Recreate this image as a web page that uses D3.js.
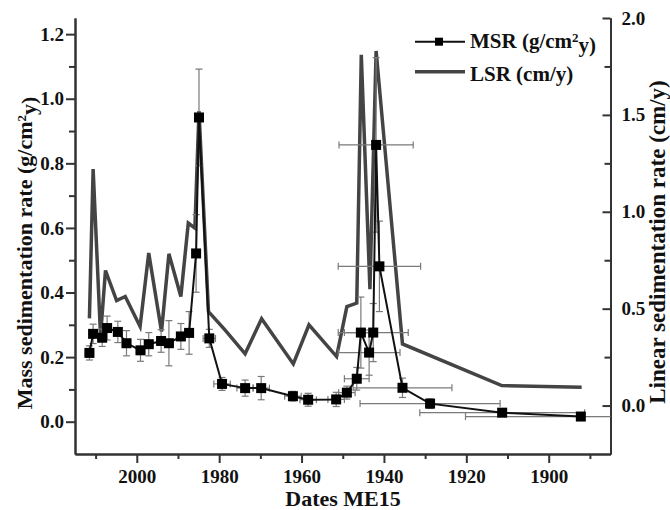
<!DOCTYPE html>
<html><head><meta charset="utf-8">
<script src="https://cdn.jsdelivr.net/npm/d3@7"></script>
<style>body{margin:0;background:#fff}svg{display:block}</style>
</head><body>
<svg id="chart" width="670" height="510"></svg>
<script>
// ---- data ----
const msrYear  = [2011.5, 2010.6, 2008.4, 2007.2, 2004.6, 2002.5, 1999.1, 1997.1, 1994.1, 1992.2, 1989.3, 1987.3, 1985.6, 1984.9, 1982.4, 1979.3, 1973.7, 1969.8, 1962.1, 1958.4, 1951.6, 1949.0, 1946.6, 1945.6, 1943.6, 1942.6, 1941.9, 1941.1, 1935.5, 1928.8, 1911.3, 1892.2];
const msrValue = [0.213, 0.272, 0.260, 0.290, 0.278, 0.243, 0.221, 0.240, 0.250, 0.243, 0.264, 0.275, 0.521, 0.942, 0.258, 0.117, 0.104, 0.104, 0.079, 0.068, 0.069, 0.090, 0.133, 0.276, 0.214, 0.276, 0.857, 0.481, 0.105, 0.056, 0.028, 0.016];
const msrErrY  = [0.022, 0.030, 0.027, 0.037, 0.033, 0.039, 0.034, 0.036, 0.035, 0.070, 0.040, 0.066, 0.120, 0.150, 0.028, 0.020, 0.025, 0.036, 0.015, 0.020, 0.022, 0.020, 0.035, 0.110, 0.070, 0.090, 0.270, 0.140, 0.030, 0.015, 0.010, 0.010];
const msrErrX  = [1, 1, 1, 1, 1, 1, 1, 1, 1, 1, 1, 1, 0.5, 0.5, 1.5, 2, 2, 2, 2, 2, 2, 2, 3, 4, 7.5, 8.5, 9, 10, 12, 17, 20, 28];

const lsrYear  = [2011.5, 2010.6, 2008.8, 2007.6, 2004.9, 2002.8, 1999.2, 1997.1, 1994.0, 1992.2, 1989.3, 1987.5, 1985.9, 1984.9, 1982.6, 1978.6, 1973.7, 1969.7, 1962.0, 1958.2, 1951.5, 1949.0, 1946.6, 1945.5, 1943.4, 1941.9, 1935.5, 1911.4, 1892.0];
const lsrValue = [0.45, 1.22, 0.36, 0.697, 0.542, 0.563, 0.408, 0.787, 0.382, 0.783, 0.563, 0.942, 0.916, 1.52, 0.485, 0.391, 0.267, 0.448, 0.215, 0.417, 0.253, 0.511, 0.529, 1.81, 0.60, 1.83, 0.318, 0.103, 0.095];

const xMajor = [2000, 1980, 1960, 1940, 1920, 1900];
const xMinor = [2010, 1990, 1970, 1950, 1930, 1910, 1890];
const yLeftMajor = [0.0, 0.2, 0.4, 0.6, 0.8, 1.0, 1.2];
const yLeftMinor = [0.1, 0.3, 0.5, 0.7, 0.9, 1.1];
const yRightMajor = [0.0, 0.5, 1.0, 1.5, 2.0];
const yRightMinor = [0.25, 0.75, 1.25, 1.75];

// ---- layout ----
const L = 75, R = 610.5, T = 18, B = 454;
const FONT = "'Liberation Serif','Times New Roman',serif";
const svg = d3.select("#chart");

const x = d3.scaleLinear().domain([2015, 1885]).range([L, R]);
const yL = d3.scaleLinear().domain([-0.1, 1.25]).range([B, T]);
const yR = d3.scaleLinear().domain([-0.25, 2.0]).range([B, T]);

svg.append("defs").append("clipPath").attr("id", "clip")
  .append("rect").attr("x", L).attr("y", T).attr("width", R - L).attr("height", B - T);

function styleAxis(g) {
  g.selectAll("path.domain").attr("stroke", "#333").attr("stroke-width", 2);
  g.selectAll(".tick line").attr("stroke", "#333").attr("stroke-width", 2);
  g.selectAll("text").attr("font-family", FONT).attr("font-weight", "bold").attr("font-size", 19).attr("fill", "#111");
}

// bottom axis
svg.append("g").attr("transform", `translate(0,${B})`)
  .call(d3.axisBottom(x).tickValues(xMinor).tickSize(5).tickSizeOuter(0).tickFormat(""))
  .call(styleAxis);
svg.append("g").attr("transform", `translate(0,${B})`)
  .call(d3.axisBottom(x).tickValues(xMajor).tickSize(9).tickSizeOuter(0).tickPadding(6.5).tickFormat(d3.format("d")))
  .call(styleAxis);

// left axis
svg.append("g").attr("transform", `translate(${L},0)`)
  .call(d3.axisLeft(yL).tickValues(yLeftMinor).tickSize(6).tickSizeOuter(0).tickFormat(""))
  .call(styleAxis);
svg.append("g").attr("transform", `translate(${L},0)`)
  .call(d3.axisLeft(yL).tickValues(yLeftMajor).tickSize(9).tickSizeOuter(0).tickPadding(2).tickFormat(d3.format(".1f")))
  .call(styleAxis);

// right axis (ticks inward)
svg.append("g").attr("transform", `translate(${R},0)`)
  .call(d3.axisRight(yR).tickValues(yRightMinor).tickSize(-6).tickSizeOuter(0).tickFormat(""))
  .call(styleAxis);
svg.append("g").attr("transform", `translate(${R},0)`)
  .call(d3.axisRight(yR).tickValues(yRightMajor).tickSize(-8).tickSizeOuter(0).tickPadding(11).tickFormat(d3.format(".1f")))
  .call(styleAxis);

// axis titles
svg.append("text").attr("x", 343).attr("y", 506).attr("text-anchor", "middle")
  .attr("font-family", FONT).attr("font-weight", "bold").attr("font-size", 22).attr("fill", "#111")
  .text("Dates ME15");

const lt = svg.append("text").attr("transform", "translate(32,253) rotate(-90)").attr("text-anchor", "middle")
  .attr("font-family", FONT).attr("font-weight", "bold").attr("font-size", 22).attr("fill", "#111");
lt.append("tspan").text("Mass sedimentation rate (g/cm");
lt.append("tspan").attr("dy", "-0.45em").attr("font-size", 13).text("2");
lt.append("tspan").attr("dy", "0.45em").text("y)");

svg.append("text").attr("transform", "translate(665,242) rotate(-90)").attr("text-anchor", "middle")
  .attr("font-family", FONT).attr("font-weight", "bold").attr("font-size", 23).attr("fill", "#111")
  .text("Linear sedimentation rate (cm/y)");

// ---- plot ----
const plot = svg.append("g").attr("clip-path", "url(#clip)");

const lsrData = lsrYear.map((d, i) => ({ x: d, y: lsrValue[i] }));
plot.append("path").datum(lsrData)
  .attr("fill", "none").attr("stroke", "#444").attr("stroke-width", 3.5).attr("stroke-linejoin", "miter")
  .attr("d", d3.line().x(d => x(d.x)).y(d => yR(d.y)));

const msrData = msrYear.map((d, i) => ({ x: d, y: msrValue[i], ex: msrErrX[i], ey: msrErrY[i] }));

// error bars
const eb = plot.append("g").attr("stroke", "#7a7a7a").attr("stroke-width", 1.2).attr("fill", "none");
msrData.forEach(d => {
  const cx = x(d.x), cy = yL(d.y);
  const y1 = yL(d.y + d.ey), y2 = yL(d.y - d.ey);
  eb.append("line").attr("x1", cx).attr("x2", cx).attr("y1", y1).attr("y2", y2);
  eb.append("line").attr("x1", cx - 3.5).attr("x2", cx + 3.5).attr("y1", y1).attr("y2", y1);
  eb.append("line").attr("x1", cx - 3.5).attr("x2", cx + 3.5).attr("y1", y2).attr("y2", y2);
  const x1 = x(d.x + d.ex), x2 = x(d.x - d.ex);
  eb.append("line").attr("x1", x1).attr("x2", x2).attr("y1", cy).attr("y2", cy);
  eb.append("line").attr("x1", x1).attr("x2", x1).attr("y1", cy - 3.5).attr("y2", cy + 3.5);
  eb.append("line").attr("x1", x2).attr("x2", x2).attr("y1", cy - 3.5).attr("y2", cy + 3.5);
});

plot.append("path").datum(msrData)
  .attr("fill", "none").attr("stroke", "#111").attr("stroke-width", 2)
  .attr("d", d3.line().x(d => x(d.x)).y(d => yL(d.y)));

plot.selectAll("rect.sq").data(msrData).enter().append("rect").attr("class", "sq")
  .attr("x", d => x(d.x) - 5).attr("y", d => yL(d.y) - 5)
  .attr("width", 10).attr("height", 10).attr("fill", "#000");

// ---- legend ----
const lg = svg.append("g");
lg.append("line").attr("x1", 415).attr("x2", 465).attr("y1", 41.7).attr("y2", 41.7).attr("stroke", "#111").attr("stroke-width", 2);
lg.append("rect").attr("x", 435).attr("y", 37.7).attr("width", 8).attr("height", 8).attr("fill", "#000");
const t1 = lg.append("text").attr("x", 470).attr("y", 48.3)
  .attr("font-family", FONT).attr("font-weight", "bold").attr("font-size", 21).attr("fill", "#111");
t1.append("tspan").text("MSR (g/cm");
t1.append("tspan").attr("dy", "-0.45em").attr("font-size", 13).text("2");
t1.append("tspan").attr("dy", "0.45em").text("y)");
lg.append("line").attr("x1", 415).attr("x2", 465).attr("y1", 71.7).attr("y2", 71.7).attr("stroke", "#444").attr("stroke-width", 3.5);
lg.append("text").attr("x", 470).attr("y", 80.7)
  .attr("font-family", FONT).attr("font-weight", "bold").attr("font-size", 21).attr("fill", "#111")
  .text("LSR (cm/y)");
</script>
</body></html>
